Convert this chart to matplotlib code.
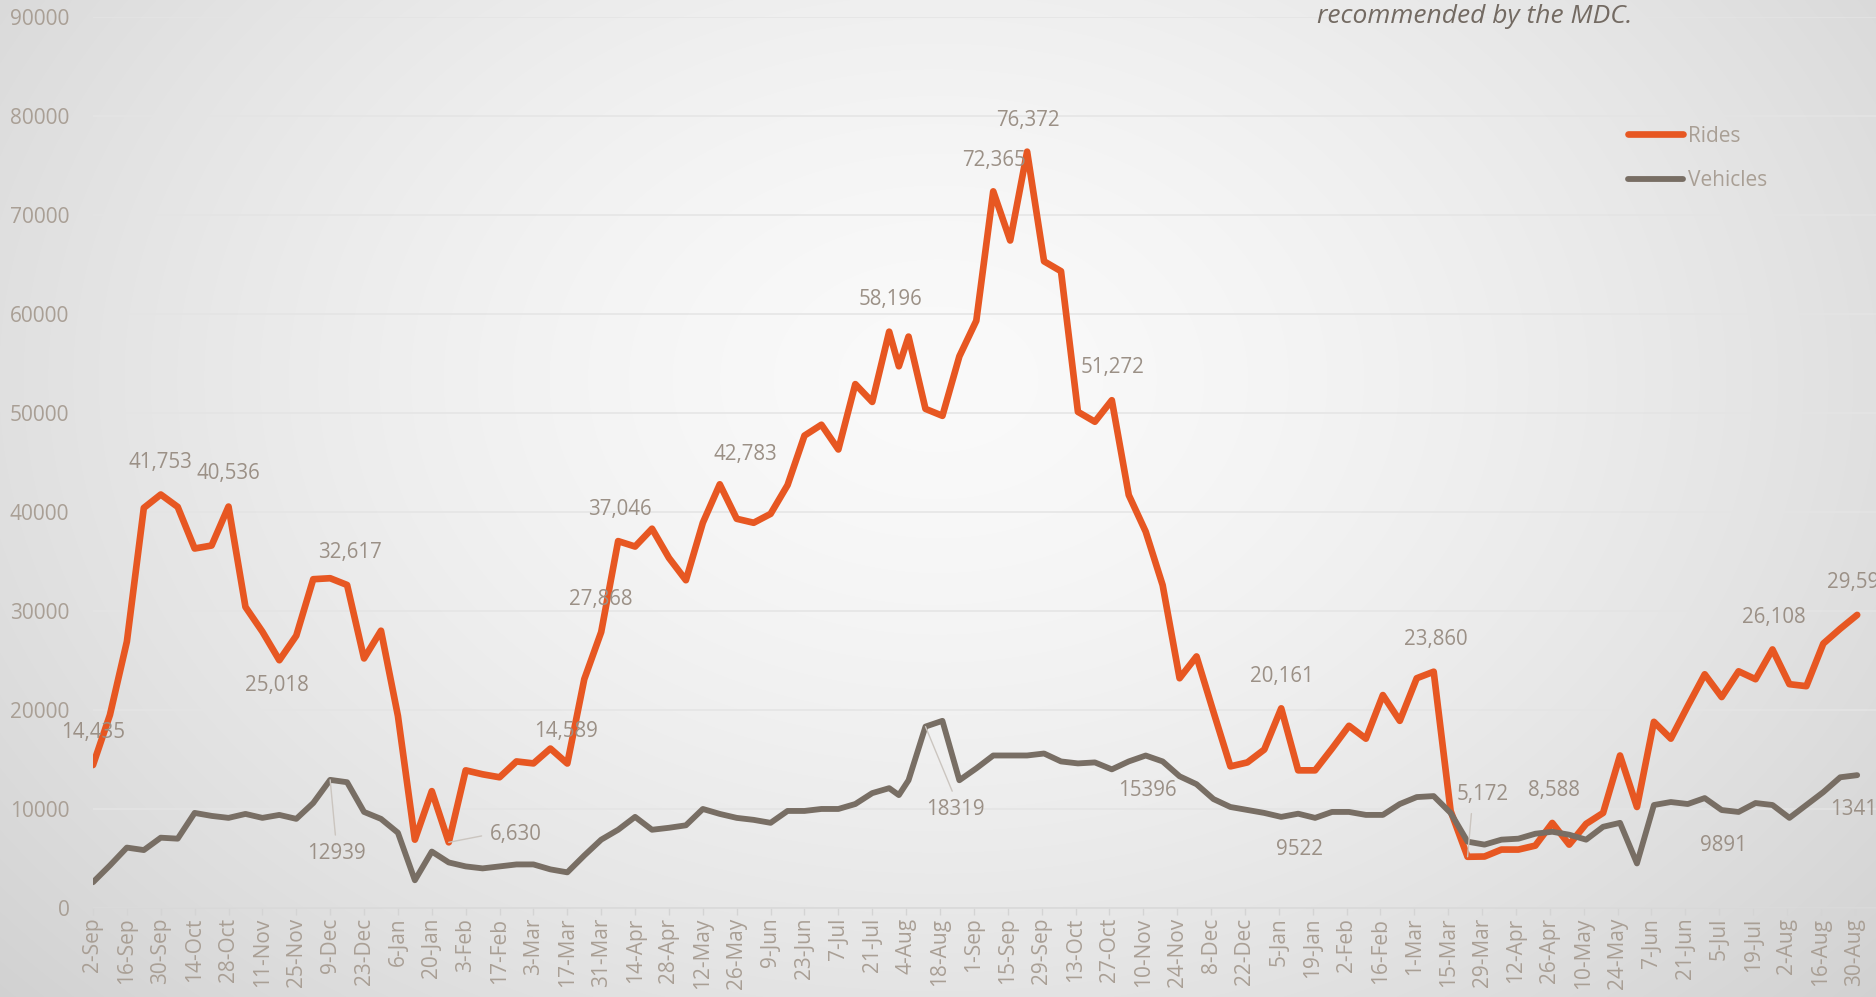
import matplotlib
matplotlib.use("Agg")
import matplotlib.pyplot as plt
import numpy as np
import pandas as pd

plt.rcParams['font.family'] = ['Open Sans', 'DejaVu Sans']

# ---------------- data ----------------
# weekly observation dates: Sundays up to 28-Jul-2019, one mid-week point, then Mondays
dates = list(pd.date_range('2018-09-02', '2019-07-28', freq='7D')) + \
        [pd.Timestamp('2019-08-01')] + \
        list(pd.date_range('2019-08-05', '2020-08-31', freq='7D'))

rides = [14435, 19500, 26900, 40400, 41753, 40500, 36300, 36600, 40536, 30400,
         27900, 25018, 27500, 33200, 33300, 32617, 25200, 28000, 19400, 6900,
         11800, 6630, 13900, 13500, 13200, 14800, 14600, 16100, 14589, 23100,
         27868, 37046, 36500, 38300, 35350, 33100, 38900, 42783, 39300, 38900,
         39800, 42700, 47700, 48800, 46300, 52900, 51100, 58196,
         54700,
         57700, 50400, 49700, 55700, 59300, 72365, 67400, 76372, 65300, 64300,
         50100, 49100, 51272, 41700, 38000, 32600, 23200, 25400, 19800, 14300,
         14700, 16000, 20161, 13900, 13900, 16100, 18400, 17100, 21500, 18900,
         23200, 23860, 9800, 5172, 5200, 5900, 5900, 6300, 8588, 6400,
         8500, 9600, 15400, 10200, 18800, 17100, 20400, 23600, 21300, 23900,
         23100, 26108, 22600, 22400, 26700, 28200, 29596]

vehicles = [2600, 4300, 6100, 5850, 7100, 7000, 9600, 9300, 9100, 9500,
            9100, 9400, 9000, 10600, 12939, 12700, 9700, 9000, 7600, 2800,
            5700, 4600, 4200, 4000, 4200, 4400, 4400, 3900, 3600, 5300,
            6900, 7900, 9200, 7900, 8100, 8350, 10000, 9500, 9100, 8900,
            8600, 9800, 9800, 10000, 10000, 10500, 11600, 12100,
            11400,
            12900, 18319, 18900, 12900, 14100, 15400, 15400, 15400, 15600, 14800,
            14600, 14700, 14000, 14800, 15396, 14800, 13300, 12500, 11000, 10200,
            9900, 9600, 9200, 9522, 9100, 9700, 9700, 9400, 9400, 10500,
            11200, 11300, 9600, 6700, 6400, 6900, 7000, 7500, 7700, 7400,
            6900, 8200, 8600, 4500, 10400, 10700, 10500, 11100, 9891, 9700,
            10600, 10400, 9100, 10400, 11700, 13200, 13414]

series_names = ['Rides', 'Vehicles']
tick_dates = list(pd.date_range('2018-09-02', '2020-08-30', freq='14D'))
tick_labels = [f"{d.day}-{d.strftime('%b')}" for d in tick_dates]
y_ticks = list(range(0, 90001, 10000))

note_text = "recommended by the MDC."

# labelled points: (index, dx px, dy px, leader, relpos)
rides_labels = [(0, 0, 33, False, None), (4, 0, 32, False, None), (8, 0, 33, False, None),
                (11, -2, -25, False, None), (15, 3, 32, False, None),
                (21, 67, 8, True, (0.0, 0.5)), (28, -1, 32, False, None),
                (30, 0, 33, False, None), (31, 2, 32, False, None), (37, 26, 30, False, None),
                (47, 1, 32, False, None), (54, 1, 31, False, None), (56, 1, 31, False, None),
                (61, 1, 33, False, None), (71, 1, 32, False, None), (80, 2, 32, False, None),
                (82, 15, 62, True, (0.3, 0.0)), (87, 2, 32, False, None),
                (100, 1.5, 32, False, None), (105, 2, 32, False, None)]
veh_labels = [(14, 6, -74, True, (0.5, 1.0)), (50, 30, -83, True, (0.5, 1.0)),
              (63, 2, -35, False, None), (72, 1.5, -36, False, None),
              (97, 1.6, -35, False, None), (105, 2, -34, False, None)]

# ---------------- style ----------------
W, H = 1876, 997
RIDES_C = '#E75722'
VEH_C = '#786E64'
TICK_C = '#a99f95'
LAB_C = '#9b9086'
GRID_C = '#e4e4e4'

fig = plt.figure(figsize=(W / 100, H / 100), dpi=100)
fig.patch.set_alpha(0)

# radial grey background
yy, xx = np.mgrid[0:H, 0:W]
xn, yn = xx / W, yy / H
r = np.sqrt(((xn - 0.5) / 0.62) ** 2 + ((yn - 0.38) / 0.85) ** 2)
g = 0.98 - 0.14 * np.clip(r, 0, 1.3) ** 1.5
fig.figimage(np.dstack([g, g, g]), xo=0, yo=0, origin='upper', zorder=-10)

x0_px, y0_px, ytop_px = 93, 908, 16.7
px_per_day = 2.42
ax = fig.add_axes([x0_px / W, (H - y0_px) / H, (W - x0_px) / W, (y0_px - ytop_px) / H])
ax.patch.set_alpha(0)

start = pd.Timestamp('2018-09-02')
ax.set_xlim(start, start + pd.Timedelta(days=(W - x0_px) / px_per_day))
ax.set_ylim(0, 90000)

ax.set_yticks(y_ticks)
ax.set_yticklabels([str(v) for v in y_ticks])
ax.set_xticks(tick_dates)
ax.set_xticklabels(tick_labels, rotation=90)

ax.yaxis.grid(True, color=GRID_C, lw=1.1)
ax.set_axisbelow(True)
for s in ['top', 'right', 'left']:
    ax.spines[s].set_visible(False)
ax.spines['bottom'].set_color('#d8d8d8')
ax.spines['bottom'].set_linewidth(1.1)
ax.tick_params(axis='x', length=5, width=1, color='#d4d4d4', pad=2,
               labelsize=15, labelcolor=TICK_C)
ax.tick_params(axis='y', length=0, pad=17, labelsize=15, labelcolor=TICK_C)

l1, = ax.plot(dates, rides, color=RIDES_C, lw=4.8, solid_joinstyle='round',
              solid_capstyle='round', zorder=3, label=series_names[0])
l2, = ax.plot(dates, vehicles, color=VEH_C, lw=4.2, solid_joinstyle='round',
              solid_capstyle='round', zorder=4, label=series_names[1])

def put_labels(vals, specs, fmt):
    for i, dx, dy, leader, rel in specs:
        kw = {}
        if leader:
            kw['arrowprops'] = dict(arrowstyle='-', color='#cbc5bf', lw=1.0,
                                    shrinkA=4, shrinkB=0, relpos=rel)
        ax.annotate(fmt(vals[i]), xy=(dates[i], vals[i]), xytext=(dx, dy),
                    textcoords='offset pixels', ha='center', va='center',
                    fontsize=14.8, color=LAB_C, annotation_clip=False, zorder=6, **kw)

put_labels(rides, rides_labels, lambda v: f"{v:,}")
put_labels(vehicles, veh_labels, lambda v: f"{v}")

leg = ax.legend(handles=[l1, l2], loc='upper left',
                bbox_to_anchor=(1628 / W, 1 - 125.5 / H), bbox_transform=fig.transFigure,
                frameon=False, borderpad=0, borderaxespad=0, handlelength=2.65,
                handletextpad=0.25, labelspacing=1.15, fontsize=15)
for t in leg.get_texts():
    t.set_color(TICK_C)

fig.text(1316.7 / W, 1 - 23 / H, note_text, ha='left', va='baseline',
         fontsize=19, style='italic', color='#736a62')

fig.savefig('out.png', dpi=100)
